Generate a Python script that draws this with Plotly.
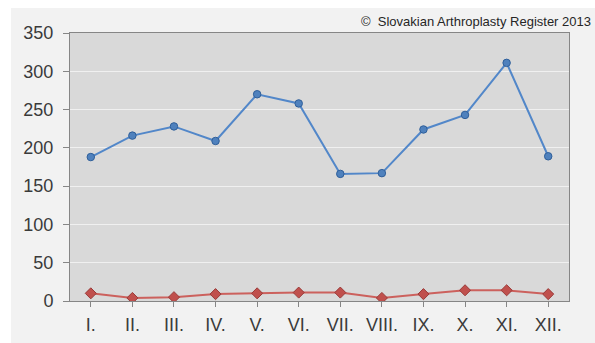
import plotly.graph_objects as go

months = ["I.", "II.", "III.", "IV.", "V.", "VI.", "VII.", "VIII.", "IX.", "X.", "XI.", "XII."]
series_blue = [188, 216, 228, 209, 270, 258, 166, 167, 224, 243, 311, 189]
series_red = [10, 4, 5, 9, 10, 11, 11, 4, 9, 14, 14, 9]
y_ticks = [0, 50, 100, 150, 200, 250, 300, 350]

W, H = 595, 343
L, R, T, B = 70, 26, 33, 42
pw, ph = W - L - R, H - T - B


def px_x(px):
    return (px - L) / pw


def px_y(py):
    return (H - B - py) / ph


fig = go.Figure()
fig.add_trace(go.Scatter(
    x=months, y=series_blue, mode="lines+markers",
    line=dict(color="#5287c9", width=2),
    marker=dict(symbol="circle", size=7.5, color="#4f81bd",
                line=dict(color="#2f5f9a", width=1)),
    showlegend=False,
))
fig.add_trace(go.Scatter(
    x=months, y=series_red, mode="lines+markers",
    line=dict(color="#cc615d", width=2),
    marker=dict(symbol="diamond", size=8.5, color="#c0504d",
                line=dict(color="#9a3a38", width=1)),
    showlegend=False,
))

# thin white canvas edge along the top and left of the gray panel
fig.add_shape(type="rect", xref="paper", yref="paper", layer="below",
              x0=px_x(0), x1=px_x(11), y0=px_y(H), y1=px_y(0),
              fillcolor="white", line_width=0)
fig.add_shape(type="rect", xref="paper", yref="paper", layer="below",
              x0=px_x(0), x1=px_x(W), y0=px_y(8), y1=px_y(0),
              fillcolor="white", line_width=0)

fig.add_annotation(
    text="©  Slovakian Arthroplasty Register 2013",
    xref="paper", yref="paper", x=px_x(593), y=px_y(21),
    xanchor="right", yanchor="middle", showarrow=False,
    font=dict(family="Liberation Sans, Arial, sans-serif", size=13, color="#262626"),
)

fig.update_layout(
    width=W, height=H,
    margin=dict(l=L, r=R, t=T, b=B, pad=0, autoexpand=False),
    paper_bgcolor="#f2f2f2",
    plot_bgcolor="#d9d9d9",
    font=dict(family="Liberation Sans, Arial, sans-serif", size=18, color="#3a3a3a"),
)
fig.update_xaxes(
    type="category", range=[-0.5, 11.5], automargin=False,
    showgrid=False, showline=True, linecolor="#868686", linewidth=1, mirror=True,
    ticks="outside", ticklen=5, tickcolor="#868686", tickwidth=1,
    ticklabelstandoff=2,
)
fig.update_yaxes(
    range=[0, 350], tickvals=y_ticks, automargin=False,
    showgrid=True, gridcolor="#f0f0f0", gridwidth=1,
    showline=True, linecolor="#868686", linewidth=1, mirror=True,
    ticks="outside", ticklen=6, tickcolor="#868686", tickwidth=1,
    ticklabelstandoff=6, zeroline=False,
)

fig.write_html("out.html")
